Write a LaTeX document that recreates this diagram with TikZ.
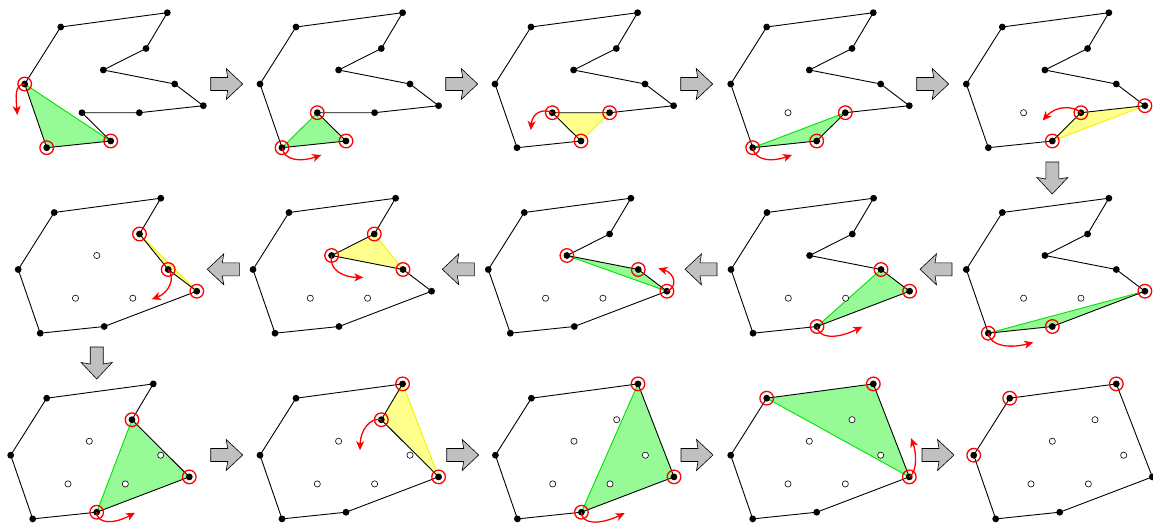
\documentclass[tikz,border=0pt]{standalone}
\usetikzlibrary{arrows.meta}
\definecolor{tgreen}{RGB}{150,250,150}
\definecolor{lgreen}{RGB}{0,225,0}
\definecolor{tyellow}{RGB}{255,255,140}
\definecolor{lyellow}{RGB}{245,240,0}
\definecolor{agray}{RGB}{192,192,192}
\tikzset{
  bdot/.style={circle, fill=black, inner sep=0pt, minimum size=6.8pt},
  wdot/.style={circle, draw=black, fill=white, line width=0.6pt, inner sep=0pt, minimum size=6.2pt},
  ring/.style={circle, draw=red, line width=1.3pt, inner sep=0pt, minimum size=13.6pt},
  polyline/.style={draw=black, line width=0.9pt, line join=round},
  gtri/.style={fill=tgreen},
  ytri/.style={fill=tyellow},
  gedge/.style={draw=lgreen, line width=0.9pt},
  yedge/.style={draw=lyellow, line width=0.9pt},
  redarr/.style={draw=red, line width=1.3pt, -{Stealth[length=9pt,width=8pt,inset=2.5pt]}},
  blockarrow/.style={fill=agray, draw=black, line width=0.6pt, line join=miter},
  rarr/.pic={\path[blockarrow] (0,-6.5) -- (17,-6.5) -- (15.5,-15.5) -- (32,0) -- (15.5,15.5) -- (17,6.5) -- (0,6.5) -- cycle;},
  larr/.pic={\path[blockarrow] (32,-6.5) -- (15,-6.5) -- (16.5,-15.5) -- (0,0) -- (16.5,15.5) -- (15,6.5) -- (32,6.5) -- cycle;},
  darr/.pic={\path[blockarrow] (-6.5,0) -- (-6.5,17) -- (-15.5,15.5) -- (0,32) -- (15.5,15.5) -- (6.5,17) -- (6.5,0) -- cycle;}
}
\newcommand{\defpts}{%
  \coordinate (p1) at (60.7,27);
  \coordinate (p2) at (167.3,12.7);
  \coordinate (p3) at (146,48.5);
  \coordinate (p4) at (103.3,70);
  \coordinate (p5) at (174.7,84);
  \coordinate (p6) at (203.3,105.7);
  \coordinate (p7) at (139.3,112.7);
  \coordinate (p8) at (82,112.7);
  \coordinate (p9) at (110.7,141);
  \coordinate (p10) at (46.7,147.7);
  \coordinate (p11) at (24.7,84);
}
\newcommand{\blackpts}[1]{\foreach \i in {#1} {\node[bdot] (d\i) at (p\i) {};}}
\newcommand{\whitepts}[1]{\foreach \i in {#1} {\node[wdot] (d\i) at (p\i) {};}}
\newcommand{\ringpts}[1]{\foreach \i in {#1} {\node[ring] (r\i) at (p\i) {};}}
\begin{document}
\begin{tikzpicture}[x=1pt,y=-1pt]
\useasboundingbox (0,0) rectangle (1153,525);
% ---------------- Row 1 ----------------
\begin{scope}[shift={(0,0)}, name prefix=a-]
  \defpts
  \fill[gtri] (p11) -- (p10) -- (p9) -- cycle;
  \draw[gedge] (p11) -- (p9);
  \draw[polyline] (p11) -- (p1) -- (p2) -- (p3) -- (p4) -- (p5) -- (p6) -- (p7) -- (p8) -- (p9) -- (p10) -- cycle;
  \blackpts{1,2,3,4,5,6,7,8,9,10,11}
  \ringpts{11,10,9}
  \coordinate (t) at (17.3,115);
  \draw[redarr] (p11) .. controls (14,85) and (16,97) .. (t);
\end{scope}
\begin{scope}[shift={(235.3,0)}, name prefix=b-]
  \defpts
  \fill[gtri] (p10) -- (p8) -- (p9) -- cycle;
  \draw[gedge] (p10) -- (p8);
  \draw[polyline] (p11) -- (p1) -- (p2) -- (p3) -- (p4) -- (p5) -- (p6) -- (p7) -- (p8) -- (p9) -- (p10) -- cycle;
  \blackpts{1,2,3,4,5,6,7,8,9,10,11}
  \ringpts{10,8,9}
  \coordinate (t) at (86,155);
  \draw[redarr] (p10) .. controls (49,161) and (66,162) .. (t);
\end{scope}
\begin{scope}[shift={(470.3,0)}, name prefix=c-]
  \defpts
  \fill[ytri] (p8) -- (p7) -- (p9) -- cycle;
  \draw[yedge] (p7) -- (p9);
  \draw[polyline] (p11) -- (p1) -- (p2) -- (p3) -- (p4) -- (p5) -- (p6) -- (p7) -- (p8) -- (p9) -- (p10) -- cycle;
  \blackpts{1,2,3,4,5,6,7,8,9,10,11}
  \ringpts{8,7,9}
  \coordinate (t) at (60.5,130);
  \draw[redarr] (p8) .. controls (72,108) and (62,113) .. (t);
\end{scope}
\begin{scope}[shift={(706,0)}, name prefix=d-]
  \defpts
  \fill[gtri] (p10) -- (p9) -- (p7) -- cycle;
  \draw[gedge] (p10) -- (p7);
  \draw[polyline] (p11) -- (p1) -- (p2) -- (p3) -- (p4) -- (p5) -- (p6) -- (p7) -- (p9) -- (p10) -- cycle;
  \blackpts{1,2,3,4,5,6,7,9,10,11}
  \whitepts{8}
  \ringpts{10,9,7}
  \coordinate (t) at (86,155);
  \draw[redarr] (p10) .. controls (49,161) and (66,162) .. (t);
\end{scope}
\begin{scope}[shift={(941.6,0)}, name prefix=e-]
  \defpts
  \fill[ytri] (p9) -- (p7) -- (p6) -- cycle;
  \draw[yedge] (p9) -- (p6);
  \draw[polyline] (p11) -- (p1) -- (p2) -- (p3) -- (p4) -- (p5) -- (p6) -- (p7) -- (p9) -- (p10) -- cycle;
  \blackpts{1,2,3,4,5,6,7,9,10,11}
  \whitepts{8}
  \ringpts{9,7,6}
  \coordinate (t) at (101,120.5);
  \draw[redarr] (p7) .. controls (131,105) and (114,106) .. (t);
\end{scope}
% ---------------- Row 2 ----------------
\begin{scope}[shift={(941.6,185.5)}, name prefix=f-]
  \defpts
  \fill[gtri] (p10) -- (p9) -- (p6) -- cycle;
  \draw[gedge] (p10) -- (p6);
  \draw[polyline] (p11) -- (p1) -- (p2) -- (p3) -- (p4) -- (p5) -- (p6) -- (p9) -- (p10) -- cycle;
  \blackpts{1,2,3,4,5,6,9,10,11}
  \whitepts{7,8}
  \ringpts{10,9,6}
  \coordinate (t) at (91.7,157);
  \draw[redarr] (p10) .. controls (49,161) and (68,163) .. (t);
\end{scope}
\begin{scope}[shift={(706.3,185.5)}, name prefix=g-]
  \defpts
  \fill[gtri] (p9) -- (p6) -- (p5) -- cycle;
  \draw[gedge] (p9) -- (p5);
  \draw[polyline] (p11) -- (p1) -- (p2) -- (p3) -- (p4) -- (p5) -- (p6) -- (p9) -- (p10) -- cycle;
  \blackpts{1,2,3,4,5,6,9,10,11}
  \whitepts{7,8}
  \ringpts{9,6,5}
  \coordinate (t) at (156,141.2);
  \draw[redarr] (p9) .. controls (112,153) and (130,154) .. (t);
\end{scope}
\begin{scope}[shift={(463.6,185.5)}, name prefix=h-]
  \defpts
  \fill[gtri] (p4) -- (p5) -- (p6) -- cycle;
  \draw[gedge] (p4) -- (p6);
  \draw[polyline] (p11) -- (p1) -- (p2) -- (p3) -- (p4) -- (p5) -- (p6) -- (p9) -- (p10) -- cycle;
  \blackpts{1,2,3,4,5,6,9,10,11}
  \whitepts{7,8}
  \ringpts{4,5,6}
  \coordinate (t) at (194.7,82.8);
  \draw[redarr] (p6) .. controls (214,102) and (212,88) .. (t);
\end{scope}
\begin{scope}[shift={(228.3,185.5)}, name prefix=i-]
  \defpts
  \fill[ytri] (p3) -- (p4) -- (p5) -- cycle;
  \draw[yedge] (p3) -- (p5);
  \draw[polyline] (p11) -- (p1) -- (p2) -- (p3) -- (p4) -- (p5) -- (p6) -- (p9) -- (p10) -- cycle;
  \blackpts{1,2,3,4,5,6,9,10,11}
  \whitepts{7,8}
  \ringpts{3,4,5}
  \coordinate (t) at (135,91.8);
  \draw[redarr] (p4) .. controls (100,84) and (115,92) .. (t);
\end{scope}
\begin{scope}[shift={(-6.5,185.5)}, name prefix=j-]
  \defpts
  \fill[ytri] (p3) -- (p5) -- (p6) -- cycle;
  \draw[yedge] (p3) -- (p6);
  \draw[polyline] (p11) -- (p1) -- (p2) -- (p3) -- (p5) -- (p6) -- (p9) -- (p10) -- cycle;
  \blackpts{1,2,3,5,6,9,10,11}
  \whitepts{4,7,8}
  \ringpts{3,5,6}
  \coordinate (t) at (158.2,113.8);
  \draw[redarr] (p5) .. controls (182,92) and (176,107) .. (t);
\end{scope}
% ---------------- Row 3 ----------------
\begin{scope}[shift={(-14,371.2)}, name prefix=k-]
  \defpts
  \fill[gtri] (p9) -- (p3) -- (p6) -- cycle;
  \draw[gedge] (p9) -- (p3);
  \draw[polyline] (p11) -- (p1) -- (p2) -- (p3) -- (p6) -- (p9) -- (p10) -- cycle;
  \blackpts{1,2,3,6,9,10,11}
  \whitepts{4,5,7,8}
  \ringpts{9,3,6}
  \coordinate (t) at (149,141.5);
  \draw[redarr] (p9) .. controls (111,153) and (128,153) .. (t);
\end{scope}
\begin{scope}[shift={(235.3,371.2)}, name prefix=l-]
  \defpts
  \fill[ytri] (p2) -- (p3) -- (p6) -- cycle;
  \draw[yedge] (p2) -- (p6);
  \draw[polyline] (p11) -- (p1) -- (p2) -- (p3) -- (p6) -- (p9) -- (p10) -- cycle;
  \blackpts{1,2,3,6,9,10,11}
  \whitepts{4,5,7,8}
  \ringpts{2,3,6}
  \coordinate (t) at (124.7,79);
  \draw[redarr] (p3) .. controls (134,46) and (125,60) .. (t);
\end{scope}
\begin{scope}[shift={(470.7,371.2)}, name prefix=m-]
  \defpts
  \fill[gtri] (p9) -- (p2) -- (p6) -- cycle;
  \draw[gedge] (p9) -- (p2);
  \draw[polyline] (p11) -- (p1) -- (p2) -- (p6) -- (p9) -- (p10) -- cycle;
  \blackpts{1,2,6,9,10,11}
  \whitepts{3,4,5,7,8}
  \ringpts{9,2,6}
  \coordinate (t) at (154,142);
  \draw[redarr] (p9) .. controls (111,153) and (128,154) .. (t);
\end{scope}
\begin{scope}[shift={(706,371.2)}, name prefix=n-]
  \defpts
  \fill[gtri] (p1) -- (p2) -- (p6) -- cycle;
  \draw[gedge] (p1) -- (p6);
  \draw[polyline] (p11) -- (p1) -- (p2) -- (p6) -- (p9) -- (p10) -- cycle;
  \blackpts{1,2,6,9,10,11}
  \whitepts{3,4,5,7,8}
  \ringpts{1,2,6}
  \coordinate (t) at (205,67);
  \draw[redarr] (p6) .. controls (212,100) and (210,80) .. (t);
\end{scope}
\begin{scope}[shift={(949,371.2)}, name prefix=o-]
  \defpts
  \draw[polyline] (p11) -- (p1) -- (p2) -- (p6) -- (p9) -- (p10) -- cycle;
  \blackpts{1,2,6,9,10,11}
  \whitepts{3,4,5,7,8}
  \ringpts{11,1,2}
\end{scope}
% ---------------- block arrows ----------------
\pic (ar1) at (210.7,84) {rarr};
\pic (ar2) at (445.7,84) {rarr};
\pic (ar3) at (680.7,84) {rarr};
\pic (ar4) at (916.7,84) {rarr};
\pic (ad1) at (1052.3,162) {darr};
\pic (al1) at (920,269.3) {larr};
\pic (al2) at (685,269.3) {larr};
\pic (al3) at (442.3,269.3) {larr};
\pic (al4) at (207.3,269.3) {larr};
\pic (ad2) at (96.7,347) {darr};
\pic (ar5) at (210.7,455) {rarr};
\pic (ar6) at (446.7,455) {rarr};
\pic (ar7) at (681,455) {rarr};
\pic (ar8) at (922,455) {rarr};
\end{tikzpicture}
\end{document}
